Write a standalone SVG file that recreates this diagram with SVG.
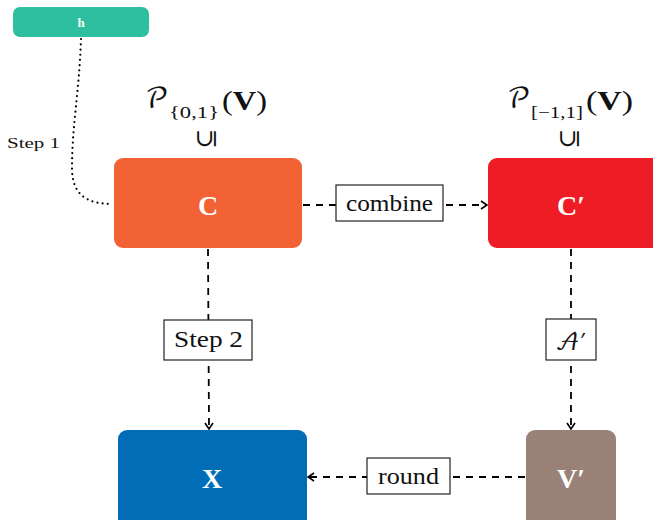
<svg xmlns="http://www.w3.org/2000/svg" width="653" height="520" viewBox="0 0 653 520">
  <defs>
    <marker id="arr" viewBox="0 0 10 10" refX="9" refY="5" markerWidth="10" markerHeight="10" markerUnits="userSpaceOnUse" orient="auto">
      <path d="M3,1 L9,5 L3,9" fill="none" stroke="#000" stroke-width="1.6"/>
    </marker>
  </defs>
  <style>
    .node-label { font-family: "Liberation Serif", "DejaVu Serif", serif; font-weight: bold; fill: #fff; text-anchor: middle; font-size: 28px; }
    .edge { fill: none; stroke: #000; stroke-width: 1.8; stroke-dasharray: 7 6; }
    .dots { fill: none; stroke: #000; stroke-width: 2.2; stroke-linecap: round; stroke-dasharray: 0 5.2; }
    .lbl-box { fill: #fff; stroke: #222; stroke-width: 1.2; }
    .lbl { font-family: "Liberation Serif", "DejaVu Serif", serif; font-size: 23px; fill: #111; }
    .math { font-family: "Liberation Serif", "DejaVu Serif", serif; fill: #111; }
    .script { font-family: "DejaVu Math TeX Gyre", "STIX Two Math", "DejaVu Sans", serif; }
  </style>

  <!-- connectors -->
  <g id="edges">
    <path class="dots" d="M81,39 C79,95 72,125 72,168 C72,196 88,204 113,204"/>
    <text x="7" y="148" class="math" font-size="14" textLength="53" lengthAdjust="spacingAndGlyphs">Step 1</text>

    <line class="edge" x1="303" y1="205" x2="487" y2="205" marker-end="url(#arr)"/>
    <rect class="lbl-box" x="336" y="185" width="107" height="36"/>
    <text class="lbl" x="346" y="211" textLength="87" lengthAdjust="spacingAndGlyphs">combine</text>

    <line class="edge" x1="208" y1="249" x2="209" y2="429" marker-end="url(#arr)"/>
    <rect class="lbl-box" x="164" y="320" width="88" height="40"/>
    <text class="lbl" x="174" y="347" textLength="69" lengthAdjust="spacingAndGlyphs">Step 2</text>

    <line class="edge" x1="571" y1="249" x2="571" y2="429" marker-end="url(#arr)"/>
    <rect class="lbl-box" x="546" y="319" width="50" height="41"/>
    <text class="lbl script" x="571" y="350" font-size="26" text-anchor="middle">𝒜′</text>

    <line class="edge" x1="525" y1="477" x2="308" y2="477" marker-end="url(#arr)"/>
    <rect class="lbl-box" x="367" y="458" width="83" height="36"/>
    <text class="lbl" x="378" y="484" textLength="61" lengthAdjust="spacingAndGlyphs">round</text>
  </g>

  <g id="node-h">
    <rect x="13" y="7" width="136" height="30" rx="7" fill="#2EBF9F"/>
    <text class="node-label" x="81" y="27" font-size="13" style="font-size:13px">h</text>
  </g>

  <g id="node-C">
    <text class="math script" x="145" y="108" font-size="28">𝒫</text>
    <text class="math" x="169" y="118" font-size="17" textLength="50" lengthAdjust="spacingAndGlyphs">{0,1}</text>
    <text class="math" x="222" y="110" font-size="27" textLength="45" lengthAdjust="spacingAndGlyphs">(<tspan font-weight="bold">V</tspan>)</text>
    <text class="math" font-size="24" text-anchor="middle" transform="translate(206,139) rotate(-90)" dy="8">⊆</text>
    <rect x="114" y="158" width="188" height="90" rx="9" fill="#F26235"/>
    <text class="node-label" x="208" y="215">C</text>
  </g>

  <g id="node-Cp">
    <text class="math script" x="507" y="108" font-size="28">𝒫</text>
    <text class="math" x="531" y="118" font-size="17" textLength="52" lengthAdjust="spacingAndGlyphs">[−1,1]</text>
    <text class="math" x="586" y="110" font-size="27" textLength="47" lengthAdjust="spacingAndGlyphs">(<tspan font-weight="bold">V</tspan>)</text>
    <text class="math" font-size="24" text-anchor="middle" transform="translate(569,139) rotate(-90)" dy="8">⊆</text>
    <rect x="488" y="158" width="175" height="90" rx="9" fill="#EE1C25"/>
    <text class="node-label" x="571" y="215">C′</text>
  </g>

  <g id="node-X">
    <rect x="118" y="430" width="189" height="100" rx="9" fill="#006DB6"/>
    <text class="node-label" x="212" y="488">X</text>
  </g>

  <g id="node-Vp">
    <rect x="526" y="430" width="90" height="100" rx="9" fill="#9A8178"/>
    <text class="node-label" x="571" y="488">V′</text>
  </g>
</svg>
